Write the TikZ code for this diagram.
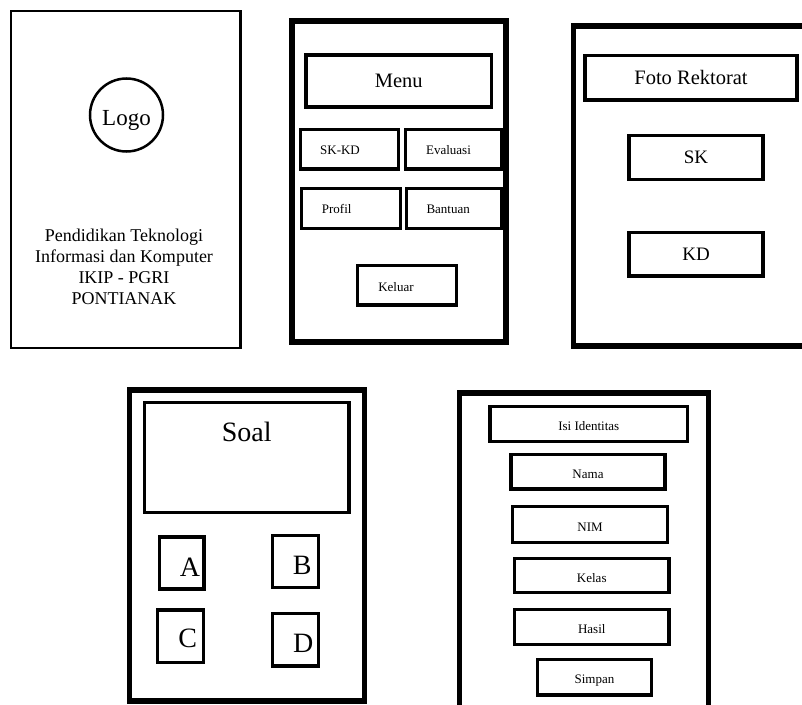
\documentclass[tikz,border=0pt]{standalone}
\usepackage{fontspec}
\setmainfont{Liberation Serif}

\begin{document}
\begin{tikzpicture}[
  x=1pt, y=-1pt,
  every node/.style={inner sep=0pt},
  wh/.style 2 args={minimum width=#1,minimum height=#2},
  panel/.style={draw,line width=5.5pt},
  box/.style={draw,line width=3.4pt},
  tiny/.style={font=\fontsize{13}{15}\selectfont},
  field/.style={tiny,text height=13pt,text depth=0pt},
  mid/.style={font=\fontsize{19}{22}\selectfont},
  big/.style={font=\fontsize{20.5}{24}\selectfont},
  huge/.style={font=\fontsize{28}{32}\selectfont}
]
\useasboundingbox (0,0) rectangle (802,704);
\clip (0,0) rectangle (802,704);

% splash screen
\node[panel, line width=2.3pt, wh={229.5}{337}] (splash) at (125.75,179.5) {};
\node[draw, circle, line width=2.5pt, minimum size=73pt, text height=21pt, text depth=0pt,
      font=\fontsize{23}{26}\selectfont] (logo) at (126.5,115) {Logo};
\node[font=\fontsize{18}{21}\selectfont, align=center] (prodi) at (124,267)
  {Pendidikan Teknologi\\Informasi dan Komputer\\IKIP - PGRI\\PONTIANAK};

% menu screen
\node[panel, wh={213.8}{321}] (menuscr) at (398.9,181.7) {};
\node[box, big, wh={185.7}{52}] (menu) at (398.8,81) {Menu};
\node[box, wh={98}{39.7}, label={[tiny,xshift=-9.3pt,yshift=-1pt]center:SK-KD}] (skkd) at (349.3,149.2) {};
\node[box, wh={96.4}{39.7}, label={[tiny,xshift=-5pt,yshift=-1pt]center:Evaluasi}] (eval) at (453.5,149.2) {};
\node[box, wh={98.6}{40}, label={[tiny,xshift=-14.3pt,yshift=-1pt]center:Profil}] (profil) at (351,208.3) {};
\node[box, wh={95}{40}, label={[tiny,xshift=-6pt,yshift=-1pt]center:Bantuan}] (bantuan) at (454.2,208.3) {};
\node[box, wh={98.6}{39.3}, label={[tiny,xshift=-11pt,yshift=-1.5pt]center:Keluar}] (keluar) at (407,285.3) {};

% sk-kd screen
\node[panel, wh={238.5}{320}] (skkdscr) at (692.75,186) {};
\node[box, big, wh={212}{44.5}] (foto) at (691,77.75) {Foto Rektorat};
\node[box, mid, wh={134}{44}] (sk) at (696,157.5) {SK};
\node[box, mid, wh={134}{43.5}] (kd) at (696,254.25) {KD};

% evaluasi screen
\node[panel, wh={235}{311}] (soalscr) at (247,545.5) {};
\node[box, wh={204.5}{110}, label={[huge,yshift=25.5pt]center:Soal}] (soal) at (246.75,457.5) {};
\node[box, wh={44.7}{51.7}, label={[huge,xshift=8.4pt,yshift=-4.7pt]center:A}] (optA) at (181.6,563) {};
\node[box, wh={45.6}{51.6}, label={[huge,xshift=6.8pt,yshift=-4.2pt]center:B}] (optB) at (295.5,561.5) {};
\node[box, wh={45.6}{52.3}, label={[huge,xshift=7.2pt,yshift=-2.1pt]center:C}] (optC) at (180.5,636.2) {};
\node[box, wh={45.6}{52.7}, label={[huge,xshift=7.8pt,yshift=-3.6pt]center:D}] (optD) at (295.5,639.7) {};

% identitas screen
\node[panel, wh={249}{322}] (idscr) at (584,554) {};
\node[box, field, wh={197.5}{35}] (isi) at (588.75,424) {Isi Identitas};
\node[box, field, wh={154}{34.5}] (nama) at (588,471.75) {Nama};
\node[box, field, wh={155}{36}] (nim) at (590,524.5) {NIM};
\node[box, field, wh={154.5}{34}] (kelas) at (591.75,575.5) {Kelas};
\node[box, field, wh={154.5}{35}] (hasil) at (591.75,627) {Hasil};
\node[box, field, wh={114}{35.5}] (simpan) at (594.5,677.25) {Simpan};
\end{tikzpicture}
\end{document}
